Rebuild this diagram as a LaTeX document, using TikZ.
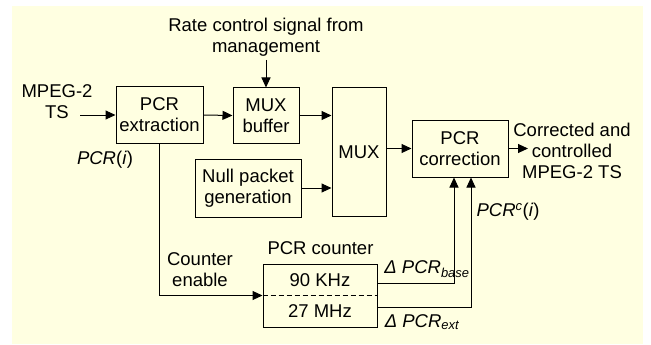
\documentclass[tikz,border=0pt]{standalone}
\usepackage{fontspec}
\setmainfont{Liberation Sans}
\usetikzlibrary{arrows.meta,calc}
\definecolor{bgyellow}{RGB}{255,255,225}
\begin{document}
\begin{tikzpicture}[x=1pt,y=-1pt,
  font=\fontsize{18.5}{21}\selectfont,
  box/.style={draw,line width=1pt,inner sep=1pt,align=center},
  lbl/.style={inner sep=0pt,align=center},
  conn/.style={line width=1pt,-{Triangle[length=10pt,width=9pt]}},
  plain/.style={line width=1pt}]
\useasboundingbox (0,0) rectangle (651,345);
\fill[bgyellow] (12,6) rectangle (643,344);
% boxes
\node[box,minimum width=87pt,minimum height=56pt] (pcrx) at (159.5,115) {PCR\\extraction};
\node[box,minimum width=66pt,minimum height=55pt] (muxbuf) at (266,115.5) {MUX\\buffer};
\node[box,minimum width=54pt,minimum height=128pt] (mux) at (359,152) {MUX};
\node[box,minimum width=96pt,minimum height=57pt] (pcrc) at (460,148.5) {PCR\\correction};
\node[box,minimum width=106pt,minimum height=58pt] (null) at (248,188) {Null packet\\generation};
\node[box,minimum width=114pt,minimum height=63pt] (counter) at (320,295.5) {};
\draw[line width=1pt,dashed,dash pattern=on 5pt off 3pt] (counter.west) -- (counter.east);
\node[lbl] (khz) at (320,280) {90 KHz};
\node[lbl] (mhz) at (320,311) {27 MHz};
% labels
\node[lbl] (rate) at (266,37.5) {Rate control signal from\\management};
\node[lbl] (inlbl) at (57,102) {MPEG-2\\TS};
\node[lbl] (outlbl) at (572,151) {Corrected and\\controlled\\MPEG-2 TS};
\node[lbl] (pcri) at (105,160) {\textit{PCR}(\textit{i})};
\node[lbl] (cen) at (200,270) {Counter\\enable};
\node[lbl] (cntlbl) at (320.5,248) {PCR counter};
\node[lbl] (dbase) at (427,269) {\textit{Δ PCR\textsubscript{base}}};
\node[lbl] (dext) at (422,322) {\textit{Δ PCR\textsubscript{ext}}};
\node[lbl] (pcrci) at (508,212) {\textit{PCR}\textsuperscript{\textit{c}}(\textit{i})};
% coordinates
\coordinate (in) at (80,115);
\coordinate (out) at (528,148.5);
\coordinate (ratestart) at (266,60);
\coordinate (bturn) at (454,283);
\coordinate (eturn) at (471,307);
% connectors
\draw[conn] (in) -- (pcrx.west);
\draw[conn] (pcrx.east) -- (muxbuf.west);
\draw[conn] (muxbuf.east) -- (mux.west |- muxbuf.east);
\draw[conn] (null.east) -- (mux.west |- null.east);
\draw[conn] (mux.east |- pcrc.west) -- (pcrc.west);
\draw[conn] (pcrc.east) -- (out);
\draw[conn] (ratestart) -- (muxbuf.north);
\draw[conn] (pcrx.south) |- (counter.west);
\draw[conn] (counter.east |- bturn) -- (bturn) -- (bturn |- pcrc.south);
\draw[conn] (counter.east |- eturn) -- (eturn) -- (eturn |- pcrc.south);
\end{tikzpicture}
\end{document}
